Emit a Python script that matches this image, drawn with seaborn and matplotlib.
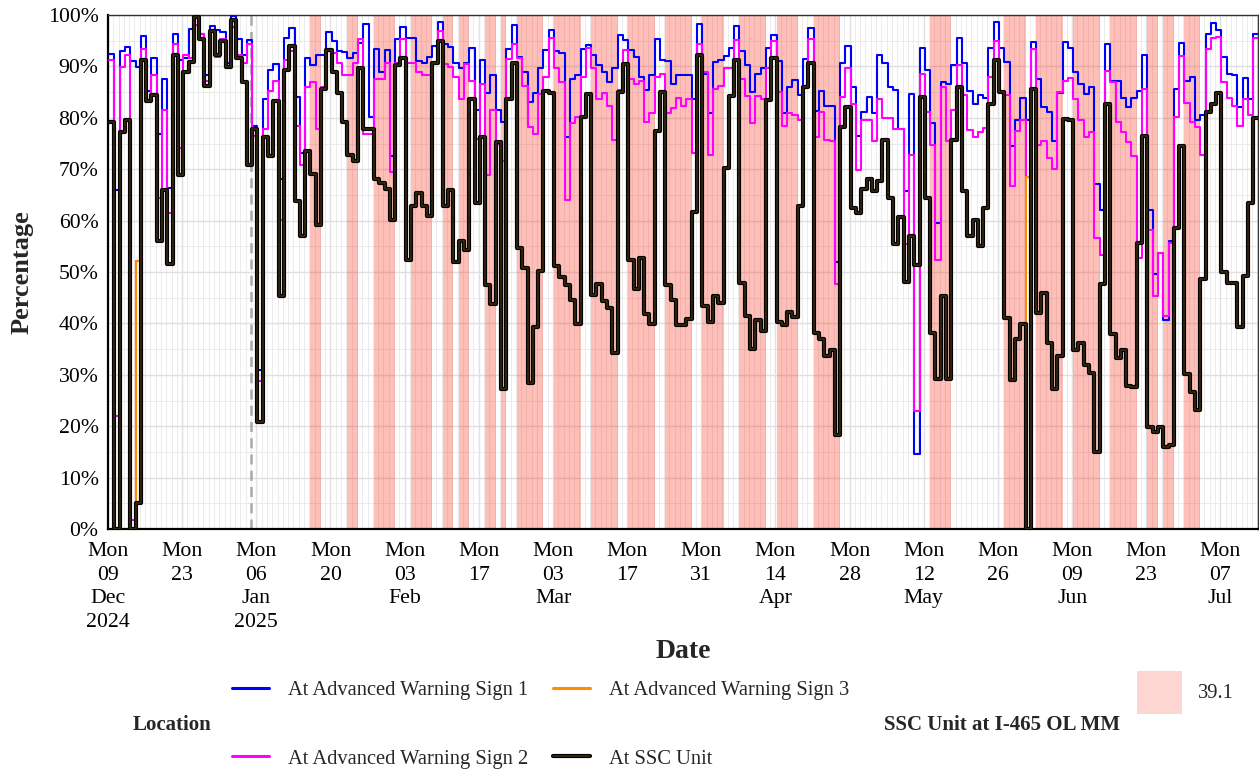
import numpy as np
import pandas as pd
import matplotlib
matplotlib.use("Agg")
import matplotlib.pyplot as plt
import matplotlib.dates as mdates
import matplotlib.patheffects as pe
from matplotlib.lines import Line2D
from matplotlib.patches import Rectangle
import matplotlib.ticker as mticker
import seaborn as sns

# ---------------- data ----------------
start_date = "2024-12-09 05:00"   # daily values (local midnight shown in UTC)
n_days = 217

locations = ["At Advanced Warning Sign 1", "At Advanced Warning Sign 2",
             "At Advanced Warning Sign 3", "At SSC Unit"]

sign1_pct = [
    92.4, 66, 93, 93.8, 91, 89.9, 96, 85.3, 91.7, 76.8,
    87.6, 66.4, 96.4, 91.3, 91.6, 97.3, 100, 96.3, 88.3, 97.8,
    97, 96.6, 90.6, 99.8, 95.3, 92.3, 95.1, 78.5, 30.9, 83.7,
    89.3, 90.4, 68.1, 95.6, 97.5, 84.1, 73.2, 91.7, 90.3, 92.3,
    92.3, 96.6, 95, 93, 92.8, 91.6, 92.6, 94.6, 98.2, 80.2,
    93.3, 88.9, 93.1, 72.5, 95.4, 97.6, 95.5, 95.6, 91.1, 90.6,
    91.9, 94, 98.7, 94.3, 93.8, 90.6, 89.6, 90.6, 93.6, 81.5,
    91.3, 84.9, 88.3, 81.5, 79.2, 93.3, 98, 91.9, 88.9, 83,
    84.9, 89.6, 93.1, 97.1, 93, 92.6, 76.3, 87.6, 88.3, 93.3,
    94.1, 92.3, 90.3, 88.9, 86.9, 89.6, 96.2, 95.1, 93.1, 91.9,
    87.9, 85.4, 88.3, 95.3, 91.3, 91.1, 86.6, 88.4, 88.4, 88.3,
    83.6, 98.2, 88.6, 80.9, 90.9, 91.3, 92, 93.6, 97.8, 93,
    90.3, 85, 88.6, 89.7, 93.6, 96.2, 91.1, 80.9, 85.9, 87.4,
    84.4, 91.5, 97.5, 81.4, 85.2, 82.2, 82.2, 52, 90.6, 94,
    85.9, 76.5, 81.2, 84.1, 80.9, 92.3, 90.6, 85.9, 85.4, 77.9,
    65.8, 84.7, 14.6, 93.6, 89.3, 79, 59.5, 86.9, 86.6, 90.3,
    95.6, 90.6, 85.2, 82.6, 84.4, 83.9, 93.6, 98.7, 93.6, 90.9,
    74.5, 79.5, 83.9, 79.5, 94.8, 87.6, 82.1, 81.2, 75.5, 84.9,
    94.8, 93.6, 88.9, 86.6, 84.6, 85.9, 67.1, 62.1, 94.4, 87.2,
    87.2, 83.9, 82.1, 83.9, 85.2, 92.3, 62.1, 49.7, 53.7, 40.7,
    56, 85.7, 94.6, 87.2, 87.9, 79.5, 80.5, 96.3, 98.5, 97.1,
    91.9, 88.6, 88.4, 82.1, 87.7, 83.6, 96.3,
]

sign2_pct = [
    91.3, 22, 89.9, 92.3, 1.7, 52.2, 93.4, 83, 88.3, 64.4,
    81.5, 61.4, 94.3, 74.2, 92.3, 91.6, 98, 96.3, 87.2, 97,
    91.9, 95.3, 89.6, 97.7, 92.3, 90.6, 94.3, 76.5, 28.7, 77.9,
    85.2, 87.2, 60.1, 91.3, 93, 78.5, 70.8, 85.9, 86.9, 77.9,
    85.9, 93.3, 92.6, 90.6, 88.3, 88.3, 90.6, 95.3, 76.8, 76.8,
    87.6, 87.6, 90.6, 69.5, 90.6, 95.3, 90.6, 90.6, 88.9, 88.3,
    88.3, 90.6, 96.8, 90.4, 89.9, 87.9, 83.6, 90.4, 87.2, 75.8,
    86.6, 68.8, 81.5, 75, 71.5, 91.5, 94.3, 91.6, 86.2, 78.2,
    76.8, 84.6, 87.9, 95.6, 89.6, 86.9, 64.1, 78.9, 80.2, 87.9,
    93.6, 89.6, 83.6, 84.9, 82.2, 75.6, 85.4, 93.1, 87.6, 86.6,
    87.2, 79.2, 80.9, 87.9, 88.6, 80.9, 81.9, 83.9, 82.2, 83.6,
    73.2, 94.3, 88.9, 72.8, 85.6, 86.2, 89.6, 89.6, 95.1, 87.5,
    84.2, 78.9, 84.2, 83.6, 89.6, 95, 85, 78.5, 80.9, 80.5,
    79.5, 86.2, 95.3, 76.2, 81.2, 75.6, 75.5, 47.7, 84.1, 89.6,
    82.6, 69.8, 79.5, 79.5, 75.5, 83.6, 79.9, 79.9, 77.9, 77.9,
    55.4, 72.8, 23, 88.6, 81.2, 74.8, 52.3, 85.9, 75.5, 81.5,
    90.3, 84.4, 77.7, 76.3, 77.2, 78, 88, 95, 85, 84.4,
    66.8, 77.5, 79.5, 68.5, 93.3, 74.8, 75.5, 72.1, 70, 85,
    87.2, 87.7, 83.6, 79.5, 76.2, 77.2, 56.7, 53.4, 89.1, 86.9,
    79.2, 77.2, 75.2, 72.5, 52.7, 85.7, 58.2, 45.3, 53.7, 41.4,
    55.7, 80.2, 92, 82.9, 79.2, 78.2, 72.8, 93.3, 95.5, 95.8,
    86.9, 83.9, 82.2, 78.5, 83.6, 80.5, 95.5,
]

sign3_pct = [
    79.2, 0, 77.2, 79.5, 0, 52.2, 91.3, 83.2, 84.4, 56,
    65.9, 51.5, 92.3, 68.8, 88.9, 90.9, 99.7, 95.3, 86.2, 96.8,
    92.3, 95, 89.9, 99, 91.6, 86.9, 70.8, 77.9, 20.8, 76.2,
    72.5, 83.2, 45.3, 89.3, 94, 63.8, 57, 73.5, 69.1, 59.1,
    85.7, 93.1, 88.9, 84.9, 79.2, 72.8, 71.5, 89.6, 77.9, 77.9,
    68.1, 67.4, 66.1, 60.1, 90.3, 91.6, 52.3, 62.9, 65.4, 62.9,
    60.9, 90.6, 95, 62.8, 65.9, 52, 56, 54.2, 83.7, 63.4,
    76.2, 47.4, 43.8, 75.3, 27.2, 83.6, 90.6, 54.7, 50.8, 28.4,
    39.3, 50.2, 85.2, 84.8, 51.1, 49.1, 47.4, 44.6, 39.9, 80.2,
    84.6, 45.6, 47.7, 44.3, 43, 34.2, 85, 90.4, 52.3, 46.6,
    52.8, 41.8, 39.9, 77.5, 85, 47.4, 44.6, 39.6, 39.6, 40.9,
    61.7, 92.3, 43.4, 40.3, 45.4, 44, 70.3, 84.2, 91.3, 47.9,
    41.4, 35.1, 40.6, 38.6, 83.4, 91.7, 40.3, 39.6, 42.3, 41.3,
    62.8, 85.9, 90.6, 38.1, 36.9, 33.6, 34.9, 18.3, 78.3, 82.1,
    62.4, 61.4, 66.1, 68.1, 65.8, 67.8, 75.6, 64.4, 55.4, 60.7,
    48, 57, 51.3, 84.1, 64.4, 38.1, 29.2, 45.4, 29.2, 75.6,
    85.9, 65.8, 57, 60.1, 55, 62.4, 82.6, 91.3, 85, 41.1,
    28.9, 36.9, 39.9, 68.5, 85.7, 42.1, 46, 36.2, 27.2, 33.6,
    79.7, 79.5, 34.9, 36.2, 32, 30.4, 15, 47.7, 82.6, 37.9,
    33.2, 34.9, 27.9, 27.7, 55.7, 76.5, 19.9, 18.8, 19.8, 15.9,
    16.4, 58.6, 74.5, 30.2, 26.6, 23.2, 48.7, 81.2, 82.6, 84.9,
    50, 47.9, 47.9, 39.3, 49.3, 63.4, 80,
]

ssc_pct = [
    79.2, 0, 77.2, 79.5, 0, 5, 91.3, 83.2, 84.4, 56,
    65.9, 51.5, 92.3, 68.8, 88.9, 90.9, 99.7, 95.3, 86.2, 96.8,
    92.3, 95, 89.9, 99, 91.6, 86.9, 70.8, 77.9, 20.8, 76.2,
    72.5, 83.2, 45.3, 89.3, 94, 63.8, 57, 73.5, 69.1, 59.1,
    85.7, 93.1, 88.9, 84.9, 79.2, 72.8, 71.5, 89.6, 77.9, 77.9,
    68.1, 67.4, 66.1, 60.1, 90.3, 91.6, 52.3, 62.9, 65.4, 62.9,
    60.9, 90.6, 95, 62.8, 65.9, 52, 56, 54.2, 83.7, 63.4,
    76.2, 47.4, 43.8, 75.3, 27.2, 83.6, 90.6, 54.7, 50.8, 28.4,
    39.3, 50.2, 85.2, 84.8, 51.1, 49.1, 47.4, 44.6, 39.9, 80.2,
    84.6, 45.6, 47.7, 44.3, 43, 34.2, 85, 90.4, 52.3, 46.6,
    52.8, 41.8, 39.9, 77.5, 85, 47.4, 44.6, 39.6, 39.6, 40.9,
    61.7, 92.3, 43.4, 40.3, 45.4, 44, 70.3, 84.2, 91.3, 47.9,
    41.4, 35.1, 40.6, 38.6, 83.4, 91.7, 40.3, 39.6, 42.3, 41.3,
    62.8, 85.9, 90.6, 38.1, 36.9, 33.6, 34.9, 18.3, 78.3, 82.1,
    62.4, 61.4, 66.1, 68.1, 65.8, 67.8, 75.6, 64.4, 55.4, 60.7,
    48, 57, 51.3, 84.1, 64.4, 38.1, 29.2, 45.4, 29.2, 75.6,
    85.9, 65.8, 57, 60.1, 55, 62.4, 82.6, 91.3, 85, 41.1,
    28.9, 36.9, 39.9, 0, 85.7, 42.1, 46, 36.2, 27.2, 33.6,
    79.7, 79.5, 34.9, 36.2, 32, 30.4, 15, 47.7, 82.6, 37.9,
    33.2, 34.9, 27.9, 27.7, 55.7, 76.5, 19.9, 18.8, 19.8, 15.9,
    16.4, 58.6, 74.5, 30.2, 26.6, 23.2, 48.7, 81.2, 82.6, 84.9,
    50, 47.9, 47.9, 39.3, 49.3, 63.4, 80,
]

# days when the SSC unit was at I-465 OL MM 39.1 (first and last day, inclusive)
shade_first = ["2025-01-16", "2025-01-23", "2025-01-28", "2025-02-04", "2025-02-10",
               "2025-02-13", "2025-02-18", "2025-02-21", "2025-02-24", "2025-03-03",
               "2025-03-10", "2025-03-17", "2025-03-24", "2025-03-31", "2025-04-07",
               "2025-04-14", "2025-04-21", "2025-05-13", "2025-05-27", "2025-06-02",
               "2025-06-09", "2025-06-16", "2025-06-23", "2025-06-26", "2025-06-30"]
shade_last = ["2025-01-17", "2025-01-24", "2025-01-31", "2025-02-07", "2025-02-11",
              "2025-02-14", "2025-02-19", "2025-02-21", "2025-02-28", "2025-03-07",
              "2025-03-14", "2025-03-21", "2025-03-28", "2025-04-03", "2025-04-11",
              "2025-04-17", "2025-04-25", "2025-05-16", "2025-05-30", "2025-06-06",
              "2025-06-13", "2025-06-20", "2025-06-24", "2025-06-27", "2025-07-02"]
shade_label = "39.1"

marker_date = "2025-01-05"

tick_dates = ["2024-12-09", "2024-12-23", "2025-01-06", "2025-01-20", "2025-02-03",
              "2025-02-17", "2025-03-03", "2025-03-17", "2025-03-31", "2025-04-14",
              "2025-04-28", "2025-05-12", "2025-05-26", "2025-06-09", "2025-06-23",
              "2025-07-07"]
tick_labels = ["Mon\n09\nDec\n2024", "Mon\n23", "Mon\n06\nJan\n2025", "Mon\n20",
               "Mon\n03\nFeb", "Mon\n17", "Mon\n03\nMar", "Mon\n17", "Mon\n31",
               "Mon\n14\nApr", "Mon\n28", "Mon\n12\nMay", "Mon\n26", "Mon\n09\nJun",
               "Mon\n23", "Mon\n07\nJul"]
y_ticks = [0, 10, 20, 30, 40, 50, 60, 70, 80, 90, 100]
y_tick_labels = ["0%", "10%", "20%", "30%", "40%", "50%", "60%", "70%", "80%", "90%", "100%"]

# ---------------- styling ----------------
colors = {"At Advanced Warning Sign 1": "#0000FF",
          "At Advanced Warning Sign 2": "#FF00FF",
          "At Advanced Warning Sign 3": "#FF8C00",
          "At SSC Unit": "#3C2C12"}
tz_shift = pd.Timedelta(hours=5)

sns.set_theme(style="white")
plt.rcParams["font.family"] = ["Liberation Serif", "DejaVu Serif"]

W, H = 1259, 770
fig = plt.figure(figsize=(W / 100, H / 100), dpi=100)
ax = fig.add_axes([108 / W, 1 - 529 / H, (1258 - 108) / W, (529 - 15) / H])

dates = pd.date_range(start_date, periods=n_days, freq="D")
dates_ext = dates.append(pd.DatetimeIndex([dates[-1] + pd.Timedelta(days=1)]))
series = [sign1_pct, sign2_pct, sign3_pct, ssc_pct]
frames = []
for loc, vals in zip(locations, series):
    v = list(vals) + [vals[-1]]
    frames.append(pd.DataFrame({"Date": dates_ext, "Percentage": v, "Location": loc}))
df = pd.concat(frames, ignore_index=True)

# shaded periods
for a, b in zip(shade_first, shade_last):
    ax.axvspan(pd.Timestamp(a) + tz_shift, pd.Timestamp(b) + pd.Timedelta(days=1) + tz_shift,
               facecolor="#FF1A05", alpha=0.28, lw=0, zorder=1)

sns.lineplot(data=df, x="Date", y="Percentage", hue="Location", hue_order=locations,
             palette=colors, drawstyle="steps-post", estimator=None, sort=True,
             legend=False, ax=ax, linewidth=1.5)

zo = {"#0000ff": 3.0, "#ff00ff": 3.1, "#ff8c00": 3.2, "#3c2c12": 3.3}
for ln in ax.lines:
    c = matplotlib.colors.to_hex(ln.get_color()).lower()
    if c in zo:
        ln.set_zorder(zo[c])
    if c == "#3c2c12":
        ln.set_linewidth(1.1)
        ln.set_path_effects([pe.Stroke(linewidth=3.0, foreground="black"), pe.Normal()])

ax.axvline(pd.Timestamp(marker_date), color="#A8A8A8", ls=(0, (4, 2.5)), lw=1.8, zorder=2)

x0 = pd.Timestamp("2024-12-09")
ax.set_xlim(x0, x0 + pd.Timedelta(days=217.1))
ax.set_ylim(0, 100)

ax.set_xticks([pd.Timestamp(t) for t in tick_dates])
ax.set_xticklabels(tick_labels, linespacing=1.33)
ax.xaxis.set_minor_locator(mdates.DayLocator())
ax.set_yticks(y_ticks)
ax.set_yticklabels(y_tick_labels)
ax.yaxis.set_minor_locator(mticker.MultipleLocator(5))

ax.set_axisbelow(True)
ax.grid(which="major", axis="both", color="#E0E0E0", lw=1.0)
ax.grid(which="minor", axis="both", color="#E8E8E8", lw=0.6)

ax.tick_params(axis="both", which="major", direction="out", length=4.3, width=1.3,
               color="black", labelsize=15.7, labelcolor="black")
ax.tick_params(axis="x", which="major", pad=5)
ax.tick_params(axis="y", which="major", pad=2.5)
ax.tick_params(axis="both", which="minor", length=0)
for s in ["left", "bottom"]:
    ax.spines[s].set_color("black")
    ax.spines[s].set_linewidth(1.6)
for s in ["top", "right"]:
    ax.spines[s].set_color("#333333")
    ax.spines[s].set_linewidth(1.0)
ax.set_xlabel("")
ax.set_ylabel("")

fig.text(683 / W, 1 - 651 / H, "Date", fontsize=20, fontweight="bold", ha="center", va="center")
fig.text(22 / W, 1 - 272 / H, "Percentage", fontsize=19, fontweight="bold",
         rotation=90, ha="center", va="center")

# legends
handles = []
for loc in locations:
    h = Line2D([], [], color=colors[loc], lw=2.2)
    if loc == "At SSC Unit":
        h.set_linewidth(1.2)
        h.set_path_effects([pe.Stroke(linewidth=3.0, foreground="black"), pe.Normal()])
    handles.append(h)
fig.legend(handles, locations, loc="center left", bbox_to_anchor=(232 / W, 1 - 724.5 / H),
           ncol=2, frameon=False, fontsize=14.8, handlelength=1.8, handletextpad=0.93,
           columnspacing=1.2, labelspacing=2.4, borderpad=0, borderaxespad=0)
fig.text(133 / W, 1 - 725 / H, "Location", fontsize=15, fontweight="bold", ha="left", va="center")

fig.patches.append(Rectangle((1137 / W, 1 - 714 / H), 45 / W, 43 / H, transform=fig.transFigure,
                             facecolor="#FDD6D1", edgecolor="none", figure=fig))
fig.text(1198 / W, 1 - 693 / H, shade_label, fontsize=14.8, ha="left", va="center")
fig.text(884 / W, 1 - 725 / H, "SSC Unit at I-465 OL MM", fontsize=15, fontweight="bold",
         ha="left", va="center")

fig.savefig("out.png", dpi=100)
